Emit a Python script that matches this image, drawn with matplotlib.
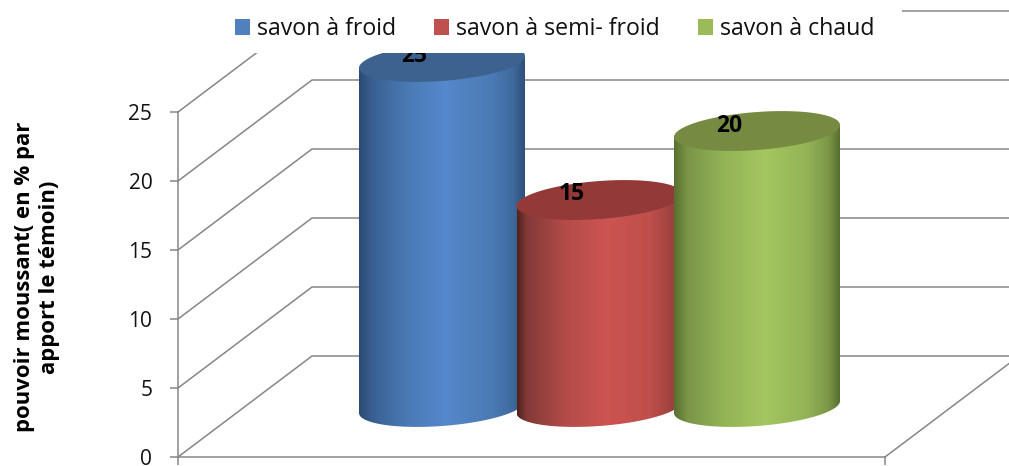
import numpy as np
import matplotlib
matplotlib.use("Agg")
import matplotlib.pyplot as plt
from matplotlib.colors import LinearSegmentedColormap
from matplotlib.patches import Patch, PathPatch, Rectangle
from matplotlib.path import Path
from matplotlib.transforms import ScaledTranslation

categories = ["savon à froid", "savon à semi- froid", "savon à chaud"]
values = [25, 15, 20]
yticks = [0, 5, 10, 15, 20, 25]
ylabel = "pouvoir moussant( en % par\napport le témoin)"

legend_colors = ["#4f81bd", "#c0504d", "#9bbb59"]
top_colors = ["#3d6290", "#933a38", "#778a42"]
gradients = [
    [(0, "#2b4a72"), (.08, "#3a6092"), (.3, "#4a7bb5"), (.52, "#5588cc"), (.8, "#4a7bb4"), (.93, "#3f6a9e"), (1, "#2f5078")],
    [(0, "#4f2220"), (.06, "#843a38"), (.3, "#b54c49"), (.55, "#cc5451"), (.8, "#bf4f4c"), (.93, "#a04340"), (1, "#7f3634")],
    [(0, "#58702f"), (.08, "#7a9548"), (.3, "#93b356"), (.55, "#a4c660"), (.8, "#93b356"), (.93, "#7d9848"), (1, "#58702f")],
]

W, H, PX = 1009, 466, 13.8   # canvas in px, px per value unit
Y0 = 457                     # pixel row of value 0
plt.rcParams["font.family"] = ["Open Sans", "DejaVu Sans"]
fig = plt.figure(figsize=(W / 100, H / 100), dpi=100)
ax = fig.add_axes([0, 0, 1, 1])
ax.patch.set_alpha(0)
ax.set_xlim(0, W)
ylim = ((Y0 - H) / PX, Y0 / PX)

GRID = "#868686"
DX, DY = 134, 101 / PX
for v in yticks:
    ax.plot([178, 178 + DX, W], [v, v + DY, v + DY], color=GRID, lw=1.1, zorder=1, solid_joinstyle="miter")
ax.plot([885, 885 + DX], [0, DY], color=GRID, lw=1.1, zorder=1)

for s in ["top", "right"]:
    ax.spines[s].set_visible(False)
for s in ["left", "bottom"]:
    ax.spines[s].set_color(GRID)
    ax.spines[s].set_linewidth(1.1)
ax.spines["left"].set_position(("data", 178))
ax.spines["left"].set_bounds(0, 25)
ax.spines["bottom"].set_position(("data", 0))
ax.spines["bottom"].set_bounds(178, 885)
ax.set_yticks(yticks)
ax.set_xticks([178, 885])
ax.set_xticklabels([])
ax.tick_params(axis="both", color=GRID, width=1.1, length=5.5)
ax.tick_params(axis="y", labelsize=15, pad=13, labelcolor="#111111")
for lab in ax.get_yticklabels():
    lab.set_verticalalignment("center_baseline")

# cylinders
A, B, TILT = 83, 19 / PX, 6 / PX
BASE = 50 / PX
t = np.linspace(0, 2 * np.pi, 181)
for i, (v, tc, g) in enumerate(zip(values, top_colors, gradients)):
    cx = 442 + 157.5 * i
    ex = cx + A * np.cos(t)
    ey = TILT * np.cos(t) + B * np.sin(t)
    low = np.linspace(np.pi, 2 * np.pi, 91)
    bx = cx + A * np.cos(low)
    by = BASE + TILT * np.cos(low) + B * np.sin(low)
    body = np.vstack([[cx - A, BASE + v - TILT], np.column_stack([bx, by]), [cx + A, BASE + v + TILT]])
    clip = PathPatch(Path(np.vstack([body, body[0]]), closed=True), transform=ax.transData, fc="none", ec="none")
    ax.add_patch(clip)
    cmap = LinearSegmentedColormap.from_list(f"c{i}", g, N=256)
    im = ax.imshow(np.linspace(0, 1, 256)[None, :], cmap=cmap, extent=[cx - A, cx + A, -1, 30],
                   aspect="auto", zorder=3 + i, interpolation="bilinear")
    im.set_clip_path(clip)
    ax.fill(ex, BASE + v + ey, color=tc, lw=0, zorder=3 + i)
    ax.text(cx - 28, BASE + v + 5.5 / PX, str(v), ha="center", va="center", fontsize=16.5,
            fontweight="bold", color="black", zorder=3 + i)

ax.set_ylim(*ylim)

# white legend band hides the tops
ax.add_patch(Rectangle((230, 53 / -PX + Y0 / PX), 672, 60 / PX, fc="white", ec="none", zorder=10))

handles = [Patch(fc=c, ec="none") for c in legend_colors]
leg = ax.legend(handles, categories, ncol=3, frameon=False, fontsize=16.7,
                loc="center", bbox_to_anchor=(554.5 / W, 1 - 29 / H), bbox_transform=ax.transAxes,
                handlelength=0.65, handleheight=0.65, handletextpad=0.3, columnspacing=1.64,
                borderpad=0, labelcolor="#111111")
leg.set_zorder(11)

ax.text(37, (Y0 - 277) / PX, ylabel, rotation=90, ha="center", va="center", fontsize=15.9,
        fontweight="bold", color="black", linespacing=1.25, multialignment="center")

fig.savefig("out.png", dpi=100)
